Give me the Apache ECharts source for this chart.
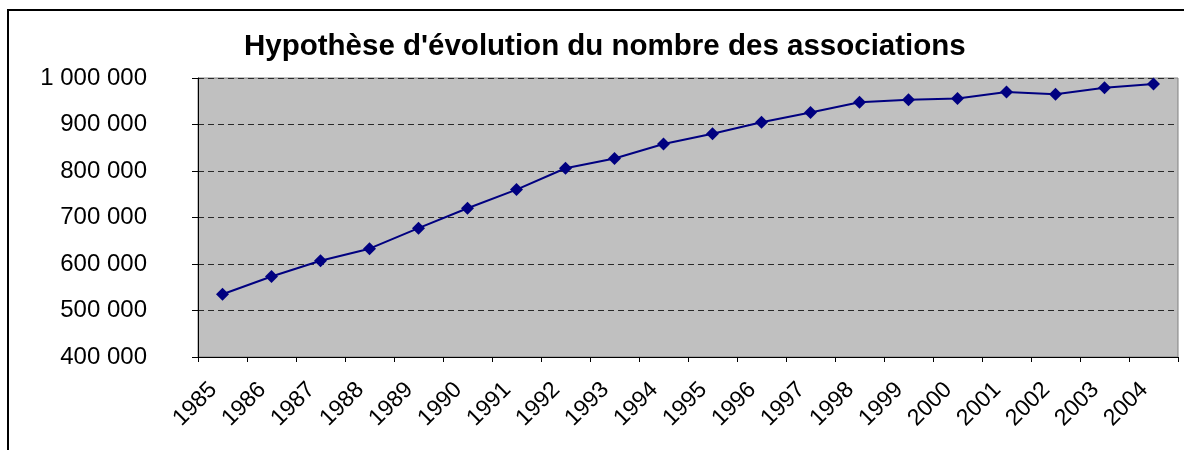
<!DOCTYPE html>
<html>
<head>
<meta charset="utf-8">
<script src="https://cdn.jsdelivr.net/npm/echarts@6/dist/echarts.min.js"></script>
<style>
html,body{margin:0;padding:0;background:#fff;}
#c{width:1184px;height:450px;}
</style>
</head>
<body>
<div id="c"></div>
<script>
const titleText = "Hypothèse d'évolution du nombre des associations";
const years = ['1985','1986','1987','1988','1989','1990','1991','1992','1993','1994','1995','1996','1997','1998','1999','2000','2001','2002','2003','2004'];
const associations = [535000, 573000, 607000, 633000, 677000, 720000, 760000, 806000, 827000, 858000, 880000, 905000, 926000, 948000, 953000, 956000, 970000, 965000, 979000, 987000];
const yMin = 400000, yMax = 1000000, yStep = 100000;

function fmt(v){ return String(v).replace(/\B(?=(\d{3})+(?!\d))/g, ' '); }

const chart = echarts.init(document.getElementById('c'), null, {renderer:'canvas'});
chart.setOption({
  animation:false,
  backgroundColor:'#ffffff',
  title:{
    text:titleText,
    left:239, top:27,
    textStyle:{fontFamily:'Liberation Sans, Arial, sans-serif', fontWeight:'bold', fontSize:29.5, color:'#000'}
  },
  graphic:[{
    type:'rect', silent:true, z:-1,
    shape:{x:8, y:10, width:1250, height:520},
    style:{fill:'none', stroke:'#000', lineWidth:2}
  }],
  grid:{
    left:198, right:6, top:78, bottom:93,
    show:true, backgroundColor:'#C0C0C0', borderColor:'#808080', borderWidth:1
  },
  xAxis:{
    type:'category', data:years, boundaryGap:true,
    axisLine:{show:true, lineStyle:{color:'#000', width:1}},
    axisTick:{show:true, length:5, lineStyle:{color:'#000'}},
    axisLabel:{rotate:45, margin:20, padding:[0,13,0,0], fontFamily:'Liberation Sans, Arial, sans-serif', fontSize:23, color:'#000', interval:0},
    splitLine:{show:false}
  },
  yAxis:{
    type:'value', min:yMin, max:yMax, interval:yStep,
    axisLine:{show:true, lineStyle:{color:'#000', width:1}},
    axisTick:{show:true, length:6, lineStyle:{color:'#000'}},
    axisLabel:{margin:51, formatter:fmt, fontFamily:'Liberation Sans, Arial, sans-serif', fontSize:24, color:'#000'},
    splitLine:{show:true, lineStyle:{color:'#2a2a2a', type:[6,4], width:1}}
  },
  series:[{
    type:'line', data:associations,
    symbol:'diamond', symbolSize:13,
    lineStyle:{color:'#000080', width:2},
    itemStyle:{color:'#000080'}
  }]
});
</script>
</body>
</html>
